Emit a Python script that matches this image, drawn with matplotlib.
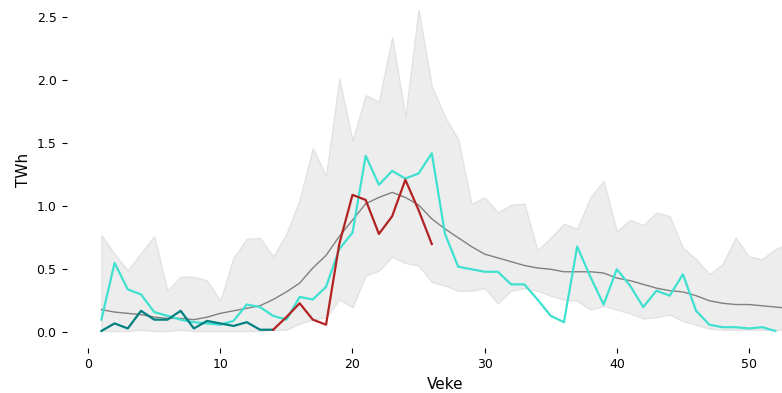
import numpy as np
import matplotlib.pyplot as plt

# weeks
veke = np.arange(1, 54)
veke_ifjor = np.arange(1, 53)
veke_i_aar = np.arange(1, 15)
veke_ny = np.arange(14, 27)

# min / max band and median over earlier years (TWh)
band_max = [0.77, 0.62, 0.49, 0.63, 0.76, 0.33, 0.44, 0.44, 0.41, 0.25,
            0.59, 0.74, 0.75, 0.60, 0.78, 1.05, 1.46, 1.24, 2.01, 1.52,
            1.88, 1.83, 2.34, 1.71, 2.56, 1.95, 1.71, 1.53, 1.02, 1.07,
            0.95, 1.01, 1.02, 0.65, 0.75, 0.86, 0.82, 1.07, 1.20, 0.80,
            0.89, 0.85, 0.95, 0.92, 0.67, 0.58, 0.46, 0.54, 0.75, 0.60,
            0.58, 0.66, 0.70]
band_min = [0.01, 0.01, 0.01, 0.02, 0.01, 0.01, 0.02, 0.01, 0.01, 0.01,
            0.01, 0.01, 0.01, 0.02, 0.02, 0.07, 0.10, 0.12, 0.26, 0.20,
            0.45, 0.49, 0.60, 0.55, 0.53, 0.40, 0.37, 0.33, 0.33, 0.35,
            0.23, 0.33, 0.35, 0.33, 0.29, 0.26, 0.25, 0.18, 0.21, 0.18,
            0.15, 0.11, 0.12, 0.14, 0.09, 0.06, 0.03, 0.02, 0.02, 0.02,
            0.02, 0.02, 0.02]
median = [0.18, 0.16, 0.15, 0.14, 0.12, 0.11, 0.11, 0.10, 0.12, 0.15,
          0.17, 0.19, 0.21, 0.26, 0.32, 0.39, 0.51, 0.61, 0.76, 0.89,
          1.02, 1.07, 1.11, 1.07, 1.01, 0.90, 0.82, 0.75, 0.68, 0.62,
          0.59, 0.56, 0.53, 0.51, 0.50, 0.48, 0.48, 0.48, 0.47, 0.43,
          0.41, 0.38, 0.35, 0.33, 0.32, 0.29, 0.25, 0.23, 0.22, 0.22,
          0.21, 0.20, 0.19]

# last year
ifjor = [0.10, 0.55, 0.34, 0.30, 0.16, 0.13, 0.10, 0.08, 0.07, 0.06,
         0.09, 0.22, 0.20, 0.13, 0.10, 0.28, 0.26, 0.36, 0.66, 0.79,
         1.40, 1.17, 1.28, 1.22, 1.26, 1.42, 0.78, 0.52, 0.50, 0.48,
         0.48, 0.38, 0.38, 0.26, 0.13, 0.08, 0.68, 0.44, 0.22, 0.50,
         0.37, 0.20, 0.33, 0.29, 0.46, 0.17, 0.06, 0.04, 0.04, 0.03,
         0.04, 0.01]

# this year
i_aar = [0.01, 0.07, 0.03, 0.17, 0.10, 0.10, 0.17, 0.03, 0.09, 0.07,
         0.05, 0.08, 0.02, 0.02]
ny = [0.02, 0.12, 0.23, 0.10, 0.06, 0.70, 1.09, 1.05, 0.78, 0.92,
      1.21, 0.97, 0.70]

fig = plt.figure(figsize=(7.82, 3.93), dpi=100)
ax = fig.add_axes([67/782, 45/393, 756/782, 356/393])

ax.fill_between(veke, band_min, band_max, color='#ededed', edgecolor='#e2e2e2', linewidth=1)
ax.plot(veke, median, color='grey', linewidth=1)
ax.plot(veke_ifjor, ifjor, color='turquoise', linewidth=1.6)
ax.plot(veke_i_aar, i_aar, color='teal', linewidth=1.6)
ax.plot(veke_ny, ny, color='firebrick', linewidth=1.6)

ax.set_xlim(-1.6, 55.6)
ax.set_ylim(-0.125, 2.7)
ax.set_xticks([0, 10, 20, 30, 40, 50])
ax.set_yticks([0.0, 0.5, 1.0, 1.5, 2.0, 2.5])
for s in ax.spines.values():
    s.set_visible(False)
ax.tick_params(length=3.5, width=0.8, labelsize=9, pad=4)
ax.set_xlabel('Veke', fontsize=11)
ax.set_ylabel('TWh', fontsize=11)

fig.savefig('out.png', dpi=100)
